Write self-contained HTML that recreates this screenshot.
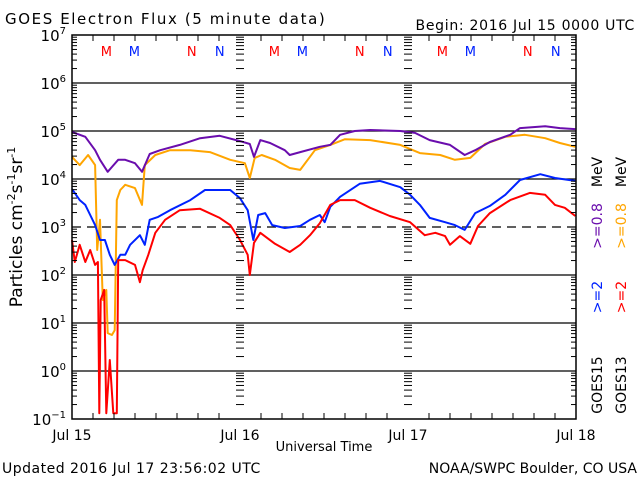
<!DOCTYPE html>
<html><head><meta charset="utf-8"><style>
body{margin:0;background:#fff}
svg{display:block;font-family:"DejaVu Sans","Liberation Sans",sans-serif}
</style></head><body>
<svg id="chart" width="640" height="480" viewBox="0 0 640 480" xmlns="http://www.w3.org/2000/svg">
<rect width="640" height="480" fill="#fff"/>
<text x="5" y="24" font-size="15" letter-spacing="1.6">GOES Electron Flux (5 minute data)</text>
<text x="635" y="30" font-size="14" letter-spacing="0.7" text-anchor="end">Begin: 2016 Jul 15 0000 UTC</text>
<text x="2" y="473" font-size="14" letter-spacing="0.5">Updated 2016 Jul 17 23:56:02 UTC</text>
<text x="637" y="473" font-size="14" text-anchor="end">NOAA/SWPC Boulder, CO USA</text>
<text x="324" y="451" font-size="13" text-anchor="middle">Universal Time</text>
<text transform="translate(22,227) rotate(-90)" font-size="17" text-anchor="middle">Particles cm<tspan dy="-7" font-size="11">-2</tspan><tspan dy="7">s</tspan><tspan dy="-7" font-size="11">-1</tspan><tspan dy="7">sr</tspan><tspan dy="-7" font-size="11">-1</tspan></text>
<g id="grid"></g><g id="series"></g><g id="axes"></g><g id="labels"></g>
<g font-size="14">
<text transform="translate(602,385) rotate(-90)" text-anchor="middle" fill="#000">GOES15</text>
<text transform="translate(602,297) rotate(-90)" text-anchor="middle" fill="#0022ff">&gt;=2</text>
<text transform="translate(602,226) rotate(-90)" text-anchor="middle" fill="#6a0dad">&gt;=0.8</text>
<text transform="translate(602,172) rotate(-90)" text-anchor="middle" fill="#000">MeV</text>
<text transform="translate(626,385) rotate(-90)" text-anchor="middle" fill="#000">GOES13</text>
<text transform="translate(626,297) rotate(-90)" text-anchor="middle" fill="#ff0000">&gt;=2</text>
<text transform="translate(626,226) rotate(-90)" text-anchor="middle" fill="#ffa500">&gt;=0.8</text>
<text transform="translate(626,172) rotate(-90)" text-anchor="middle" fill="#000">MeV</text>
</g>
</svg>
<script>
const dayLabels=["Jul 15","Jul 16","Jul 17","Jul 18"];
const decades=[-1,0,1,2,3,4,5,6,7];
const tP=[0,1.9,3.3,4,5.1,5.7,6.6,7.6,9,10,11.1,12.6,15.4,18.3,21.1,24,25.4,26,26.9,28.3,30.4,31.1,32.6,35.4,36.9,38.3,40.4,42.6,46.9,49,51.1,54,56.1,57.6,59.7,62.6,64,67.6,69.7,71.9];
const vP=[4.98,4.88,4.60,4.40,4.15,4.25,4.40,4.40,4.33,4.15,4.52,4.60,4.71,4.85,4.90,4.79,4.73,4.46,4.81,4.75,4.60,4.50,4.56,4.67,4.71,4.92,5.00,5.02,5.00,4.96,4.81,4.71,4.50,4.60,4.77,4.92,5.06,5.10,5.06,5.04];
const tO=[0,1.1,2.3,3.3,3.6,4,4.4,4.9,5.1,5.7,6.1,6.4,6.9,7.6,9,10,10.4,11.9,14,16.9,19.7,22.6,24.7,25.4,26.1,27.1,29,31.1,32.6,34.7,36.9,39,42.6,46.9,49.7,52.6,54.7,56.9,59,61.9,64.7,67.6,69.7,71.9];
const vO=[4.46,4.29,4.50,4.29,2.52,3.15,1.48,1.69,0.79,0.75,0.85,3.56,3.77,3.88,3.81,3.46,4.29,4.50,4.60,4.60,4.56,4.40,4.33,4.02,4.44,4.50,4.40,4.23,4.19,4.60,4.71,4.83,4.81,4.71,4.54,4.50,4.40,4.44,4.73,4.88,4.92,4.85,4.75,4.67];
const tB=[0,1.1,1.9,2.6,3.3,4,4.7,5.4,6.1,6.9,7.6,8.3,9.7,10.4,11.1,12.3,14,16.9,19,22.6,24,25.1,25.9,26.6,27.6,28.6,30.4,32.6,34,35.4,36.1,36.9,38.3,41.1,44,46.9,48.3,49.7,51.1,53.3,54.7,56.1,57.6,59.7,61.9,64,66.9,69,71.9];
const vB=[3.79,3.56,3.46,3.25,3.04,2.73,2.73,2.42,2.21,2.42,2.42,2.63,2.83,2.63,3.15,3.21,3.35,3.56,3.77,3.77,3.60,3.35,2.73,3.25,3.29,3.04,2.98,3.02,3.15,3.25,3.10,3.42,3.63,3.90,3.96,3.83,3.67,3.46,3.19,3.10,3.04,2.94,3.29,3.44,3.67,3.98,4.10,4.02,3.96];
const tR=[0,0.4,1.1,1.9,2.6,3.3,3.7,3.9,4.1,4.6,4.9,5.4,5.9,6.4,6.6,7.6,9,9.7,10.1,10.9,11.9,13.3,15.4,18.3,21.1,22.6,24,25.1,25.4,26,26.9,29,31.1,32.6,34,35.4,36.9,38.3,40.4,42.6,45.4,48.3,50.4,51.9,53.3,54,55.4,56.9,58,59.7,62.6,65.4,67.6,69,70.4,71.9];
const vR=[2.73,2.27,2.63,2.27,2.52,2.21,2.27,-0.88,1.48,1.69,-0.88,0.23,-0.88,-0.88,2.31,2.31,2.21,1.85,2.10,2.42,2.88,3.15,3.35,3.38,3.19,3.04,2.73,2.42,2.00,2.67,2.88,2.65,2.48,2.63,2.83,3.08,3.46,3.56,3.56,3.40,3.23,3.10,2.83,2.88,2.81,2.63,2.81,2.65,3.02,3.29,3.56,3.71,3.67,3.46,3.40,3.23];
const markerText=["M","M","N","N"];
const markerHour=[4.9,8.9,17.1,21.1];
const markerColor=["#ff0000","#0022ff","#ff0000","#0022ff"];

const L=72,R=576,T=35,B=419;
const X=h=>L+(R-L)*h/72;
const Y=v=>B-(v+1)*(B-T)/8;
const NS="http://www.w3.org/2000/svg";
function mk(tag,parent,attrs){const e=document.createElementNS(NS,tag);for(const k in attrs)e.setAttribute(k,attrs[k]);parent.appendChild(e);return e;}
const grid=document.getElementById('grid'),axes=document.getElementById('axes'),ser=document.getElementById('series'),lab=document.getElementById('labels');

decades.forEach(d=>{
  if(d>-1&&d<7){
    const ln=mk('line',grid,{x1:L,x2:R,y1:Y(d),y2:Y(d),stroke:'#000','stroke-width':1.3});
    if(d===3)ln.setAttribute('stroke-dasharray','9,6');
    
    
  }
  const t=mk('text',lab,{x:L-6,y:Y(d)+6,'font-size':15,'text-anchor':'end'});
  
  
  t.innerHTML='10<tspan dy="-7" font-size="10">'+(d<0?'−1':d)+'</tspan>';
  if(d<7){for(let m=2;m<=9;m++){const yy=Y(d+Math.log10(m));
    [L,X(24),X(48),R].forEach((xx,i)=>{
      const len=(i===0||i===3)?5:4;
      if(i===0)mk('line',axes,{x1:L,x2:L+len,y1:yy,y2:yy,stroke:'#000'});
      else if(i===3)mk('line',axes,{x1:R-len,x2:R,y1:yy,y2:yy,stroke:'#000'});
      else mk('line',axes,{x1:xx-len,x2:xx+len,y1:yy,y2:yy,stroke:'#000'});
    });}}
});
for(let h=3;h<72;h+=3){const xx=X(h);const len=h%24===0?0:6;
  if(len){mk('line',axes,{x1:xx,x2:xx,y1:B,y2:B-len,stroke:'#000'});mk('line',axes,{x1:xx,x2:xx,y1:T,y2:T+len,stroke:'#000'});}}
const frame=mk('rect',axes,{x:L,y:T,width:R-L,height:B-T,fill:'none',stroke:'#000','stroke-width':1.5});


dayLabels.forEach((s,i)=>{const t=mk('text',lab,{x:X(i*24),y:440,'font-size':14,'text-anchor':'middle'});t.textContent=s;
  
  });
for(let day=0;day<3;day++){markerText.forEach((m,i)=>{const t=mk('text',lab,{x:X(day*24+markerHour[i]),y:56,'font-size':13,'text-anchor':'middle',fill:markerColor[i]});t.textContent=m;
  
  });}

function series(ts,vs,color,name){
  let d='';ts.forEach((t,i)=>{d+=(i?'L':'M')+X(t).toFixed(1)+','+Y(Math.max(vs[i],-0.9)).toFixed(1);});
  const p=mk('path',ser,{d:d,fill:'none',stroke:color,'stroke-width':2,'stroke-linejoin':'round'});
  
  
}
series(tO,vO,'#ffa500','goes13-0.8mev-line');
series(tP,vP,'#6a0dad','goes15-0.8mev-line');
series(tB,vB,'#0022ff','goes15-2mev-line');
series(tR,vR,'#ff0000','goes13-2mev-line');
</script>
</body></html>
